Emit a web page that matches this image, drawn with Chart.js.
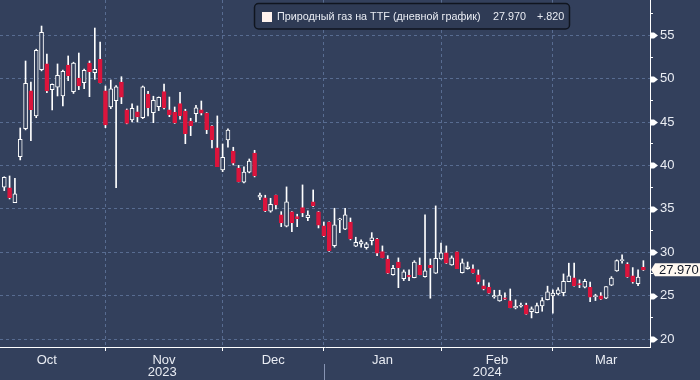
<!DOCTYPE html>
<html><head><meta charset="utf-8">
<script src="https://cdn.jsdelivr.net/npm/chart.js@4.4.0/dist/chart.umd.min.js"></script>
<style>html,body{margin:0;padding:0;background:#33405c;}#wrap{width:700px;height:380px;position:relative}</style>
</head><body><div id="wrap"><canvas id="c" width="700" height="380"></canvas></div>
<script>
// ---- data ----
const seriesName = 'Природный газ на TTF (дневной график)';
const monthNames = ['Oct','Nov','Dec','Jan','Feb','Mar'];
const yearLabels = ['2023','2024'];
const yTickValues = [20,25,30,35,40,45,50,55];
const holidays = ['2023-12-25','2023-12-26','2024-01-01','2024-03-29'];
const calendarStart = '2023-10-02';
const calendarEnd = '2024-03-28';
const firstDate = '2023-10-05';

const open = [
 37.49,37.41,35.72,41.02,44.24,48.59,45.71,51.04,51.70,48.74,49.01,48.01,51.58,48.51,50.08,49.54,51.81,50.69,52.24,
 48.59,46.74,47.47,49.62,46.40,45.24,46.17,45.51,48.24,46.09,46.78,48.51,46.40,46.13,47.12,46.28,45.13,45.97,46.40,46.05,44.55,42.02,
 39.48,42.94,41.67,39.71,38.07,39.22,41.44,36.34,36.26,34.73,36.57,34.30,33.00,34.65,34.10,35.14,33.99,35.80,34.65,
 33.03,33.49,30.76,33.72,32.65,33.49,30.69,30.96,30.53,31.34,31.53,30.07,29.20,27.42,28.88,26.96,27.35,27.08,28.50,27.19,28.50,27.58,
 29.23,29.92,28.54,30.04,27.65,28.11,28.08,27.39,26.12,25.97,24.85,24.39,24.74,24.39,23.58,23.78,23.90,23.16,23.04,23.82,24.54,
 24.97,25.20,25.35,26.62,27.04,26.38,25.97,25.97,24.89,24.97,24.70,26.20,27.85,29.03,28.62,27.27,26.38,28.27
];
const high = [
 38.70,38.79,38.53,44.32,52.04,49.62,53.40,56.07,52.85,49.40,51.70,51.00,52.62,51.90,52.96,51.12,52.04,55.84,54.23,
 49.16,49.85,49.20,50.23,46.51,47.09,46.86,49.16,48.55,47.98,47.90,49.39,47.89,46.74,48.44,46.48,45.44,46.94,47.43,46.10,44.60,45.71,
 42.48,44.21,42.10,40.02,39.83,40.75,41.75,36.83,36.57,36.22,36.60,34.68,37.53,34.70,34.38,37.76,34.76,37.18,34.70,
 33.49,33.50,35.07,33.92,35.07,33.95,31.73,31.42,31.15,32.26,31.60,30.73,29.61,28.50,29.35,27.96,27.96,29.03,29.35,34.30,29.23,35.34,
 31.07,30.73,29.58,30.05,29.23,28.88,28.54,27.96,26.81,26.47,25.62,25.62,25.31,25.77,24.51,24.13,24.13,23.70,24.13,24.77,26.09,
 25.66,25.92,27.50,28.74,28.74,26.81,26.89,26.55,25.16,25.35,26.05,27.19,29.12,29.69,28.80,28.23,27.96,29.03
];
const low = [
 37.10,36.14,35.70,40.64,44.10,42.86,45.51,50.90,48.39,46.40,48.01,46.86,49.77,48.30,48.74,48.85,47.93,49.93,49.50,
 44.36,46.55,37.45,47.12,44.80,45.01,45.01,45.40,45.71,44.93,46.32,46.51,45.62,44.85,45.33,42.51,43.44,45.01,45.82,43.67,42.02,39.86,
 39.29,42.10,40.06,38.10,38.00,39.15,38.68,36.06,34.68,34.61,34.99,32.95,32.92,32.38,32.95,34.10,33.64,35.26,32.80,
 31.80,30.10,30.58,32.26,32.60,31.42,30.65,30.58,30.35,30.84,29.61,29.35,27.55,27.35,25.92,26.73,26.73,27.05,27.40,27.12,24.70,27.55,
 29.19,28.70,28.50,28.10,27.60,28.04,27.60,26.35,25.66,25.25,24.70,24.35,24.54,23.60,23.47,23.67,22.85,22.43,23.00,23.20,24.50,
 22.97,25.08,24.97,26.60,26.10,25.92,25.89,24.31,24.43,24.55,24.65,26.15,27.80,28.74,27.10,26.43,26.15,27.90
];
const close = [
 38.64,36.29,36.72,43.02,49.47,46.43,53.27,55.35,48.59,49.36,50.39,50.86,50.35,51.81,49.16,50.97,50.81,51.09,49.54,
 44.67,48.82,49.05,47.86,44.86,46.59,45.59,49.05,46.66,47.51,47.86,46.66,45.86,44.90,45.74,43.67,44.59,46.63,46.02,44.13,42.98,39.86,
 40.95,44.09,40.26,38.14,39.25,40.52,38.79,36.60,34.80,35.53,35.45,33.38,35.80,33.41,33.87,34.53,34.27,35.34,33.11,
 31.88,30.19,33.15,33.84,34.30,31.53,31.15,31.22,30.96,31.65,29.89,29.38,27.58,28.16,28.23,27.73,27.16,28.88,27.42,27.85,28.23,29.31,
 29.92,28.74,29.35,28.11,28.77,28.31,27.65,26.58,25.77,25.28,25.00,25.05,24.59,23.62,23.78,23.85,22.86,23.47,23.85,24.43,25.43,
 25.28,25.66,26.66,27.27,26.15,26.23,26.66,24.82,25.00,24.59,26.04,27.01,29.03,29.12,27.16,26.58,27.15,27.97
];

// ---- trading calendar (weekdays minus exchange holidays) ----
const sessions = [];
for (let d = new Date(calendarStart + 'T00:00:00Z'); d <= new Date(calendarEnd + 'T00:00:00Z'); d.setUTCDate(d.getUTCDate() + 1)) {
  const wd = d.getUTCDay(); const s = d.toISOString().slice(0, 10);
  if (wd !== 0 && wd !== 6 && !holidays.includes(s)) sessions.push(s);
}
const startIdx = sessions.indexOf(firstDate);
const candleDates = sessions.slice(startIdx, startIdx + open.length);
const xIdx = candleDates.map(d => sessions.indexOf(d));

const monthStarts = [];
sessions.forEach((s, i) => { if (i === 0 || s.slice(0, 7) !== sessions[i - 1].slice(0, 7)) monthStarts.push(i); });
const monthMids = monthStarts.map((s, k) => (s + (k + 1 < monthStarts.length ? monthStarts[k + 1] : sessions.length)) / 2);
const gridStarts = monthStarts.slice(1);
const yearStartIdx = sessions.findIndex(s => s.startsWith(yearLabels[1]));
const yAllTicks = yTickValues.flatMap(v => [v, v + 2.5]);

// ---- styles ----
const BG = '#33405c';
const GRID = '#586c91';
const RED = '#dc143c';
const TXT = '#e9ecf3';
const FONT = "'Liberation Sans', Arial, sans-serif";

const decor = {
  id: 'decor',
  beforeDraw(chart) {
    const c = chart.ctx; c.save(); c.fillStyle = BG; c.fillRect(0, 0, chart.width, chart.height); c.restore();
  },
  afterDraw(chart) {
    const c = chart.ctx, a = chart.chartArea, x = chart.scales.x, y = chart.scales.y;
    c.save();
    // axis flags
    c.fillStyle = '#ffffff';
    yTickValues.forEach(v => {
      const py = Math.round(y.getPixelForValue(v)) + 0.5;
      c.beginPath();
      c.moveTo(a.right, py - 3); c.lineTo(a.right + 4, py - 3); c.lineTo(a.right + 8, py);
      c.lineTo(a.right + 4, py + 3); c.lineTo(a.right, py + 3); c.closePath(); c.fill();
    });
    // year row
    const jx = Math.round(x.getPixelForValue(yearStartIdx)) + 0.5;
    c.strokeStyle = '#8794b3'; c.lineWidth = 1;
    c.beginPath(); c.moveTo(jx, 364); c.lineTo(jx, 380); c.stroke();
    c.fillStyle = TXT; c.font = '13px ' + FONT; c.textAlign = 'center'; c.textBaseline = 'middle';
    c.fillText(yearLabels[0], (a.left + jx) / 2, 372);
    c.fillText(yearLabels[1], (jx + a.right) / 2, 372);
    // last price tag
    const last = close[close.length - 1];
    const ly = y.getPixelForValue(last);
    c.fillStyle = '#fff8f0';
    c.beginPath();
    c.moveTo(a.right + 1, ly); c.lineTo(a.right + 5, ly - 6.5); c.lineTo(700, ly - 6.5);
    c.lineTo(700, ly + 6.5); c.lineTo(a.right + 5, ly + 6.5); c.closePath(); c.fill();
    c.fillStyle = '#111827'; c.font = '13px ' + FONT; c.textAlign = 'left';
    c.fillText(last.toFixed(3), a.right + 9, ly + 0.5);
    // legend box
    const chg = last - close[close.length - 2];
    const chgTxt = (chg >= 0 ? '+' : '-') + Math.abs(chg).toFixed(3).replace(/^0/, '');
    c.fillStyle = '#2f3b55'; c.strokeStyle = '#10151f'; c.lineWidth = 1.5;
    c.beginPath(); c.roundRect(254.5, 3.5, 315, 25.5, 4); c.fill(); c.stroke();
    c.fillStyle = '#fff3ee'; c.fillRect(262, 12, 10, 10);
    c.fillStyle = TXT; c.font = '10.8px ' + FONT; c.textAlign = 'left';
    c.fillText(seriesName, 277, 17);
    c.fillText(last.toFixed(3), 493, 17);
    c.fillText(chgTxt, 537, 17);
    c.restore();
  }
};

new Chart(document.getElementById('c'), {
  type: 'bar',
  data: {
    datasets: [
      {
        label: 'body', order: 1, grouped: false,
        data: xIdx.map((xi, i) => ({ x: xi, y: [open[i], close[i]] })),
        backgroundColor: ctx => close[ctx.dataIndex] >= open[ctx.dataIndex] ? BG : RED,
        borderColor: ctx => close[ctx.dataIndex] >= open[ctx.dataIndex] ? '#ffffff' : RED,
        borderWidth: 1, borderSkipped: false, barThickness: 4, minBarLength: 1
      },
      {
        label: 'wick', order: 2, grouped: false,
        data: xIdx.map((xi, i) => ({ x: xi, y: [low[i], high[i]] })),
        backgroundColor: '#ffffff', borderWidth: 0, barThickness: 1
      }
    ]
  },
  options: {
    animation: false, responsive: false, devicePixelRatio: 1,
    layout: { padding: 0 },
    plugins: { legend: { display: false }, tooltip: { enabled: false } },
    scales: {
      x: {
        type: 'linear', min: 2.2, max: 124.24, offset: false,
        afterBuildTicks: s => { s.ticks = [...gridStarts, ...monthMids].sort((p, q) => p - q).map(v => ({ value: v })); },
        afterFit: s => { s.height = 33; s.paddingLeft = 0; s.paddingRight = 0; },
        grid: {
          offset: false,
          color: ctx => gridStarts.includes(ctx.tick && ctx.tick.value) ? GRID : 'rgba(0,0,0,0)',
          tickColor: ctx => gridStarts.includes(ctx.tick && ctx.tick.value) ? '#ffffff' : 'rgba(0,0,0,0)',
          tickLength: 4, lineWidth: 1
        },
        border: { color: '#ffffff', width: 1, dash: [3, 3] },
        ticks: {
          autoSkip: false, maxRotation: 0, color: TXT, padding: 2,
          font: { family: FONT, size: 13 },
          callback: v => { const k = monthMids.indexOf(v); return k >= 0 ? monthNames[k] : ''; }
        }
      },
      y: {
        position: 'right', min: 19.08, max: 59.07,
        afterBuildTicks: s => { s.ticks = yAllTicks.map(v => ({ value: v })); },
        afterFit: s => { s.width = 50; s.paddingTop = 0; s.paddingBottom = 0; },
        grid: {
          color: ctx => yTickValues.includes(ctx.tick && ctx.tick.value) ? GRID : 'rgba(0,0,0,0)',
          tickColor: ctx => yTickValues.includes(ctx.tick && ctx.tick.value) ? 'rgba(0,0,0,0)' : '#ffffff',
          tickLength: 3, lineWidth: 1
        },
        border: { color: '#ffffff', width: 1, dash: [3, 3] },
        ticks: {
          color: TXT, padding: 7, font: { family: FONT, size: 13 },
          callback: v => yTickValues.includes(v) ? String(v) : ''
        }
      }
    }
  },
  plugins: [decor]
});
</script></body></html>
